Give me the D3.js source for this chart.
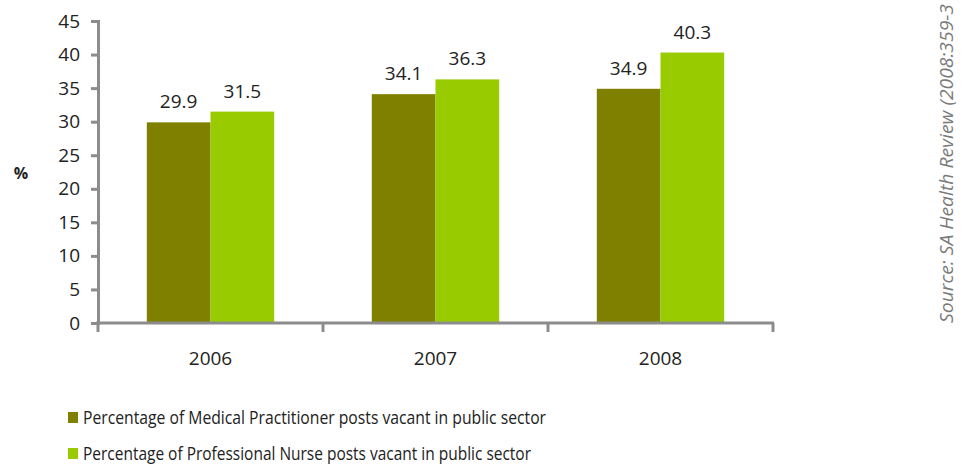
<!DOCTYPE html>
<html>
<head>
<meta charset="utf-8">
<script src="https://cdn.jsdelivr.net/npm/d3@7"></script>
<style>
  body { margin: 0; background: #fff; }
  text { font-family: 'Open Sans', 'DejaVu Sans', sans-serif; }
</style>
</head>
<body>
<div id="chart"></div>
<script>
'use strict'

const years = ['2006', '2007', '2008']
const medical = [29.9, 34.1, 34.9]
const nurse = [31.5, 36.3, 40.3]
const seriesNames = [
  'Percentage of Medical Practitioner posts vacant in public sector',
  'Percentage of Professional Nurse posts vacant in public sector'
]
const yTicks = [0, 5, 10, 15, 20, 25, 30, 35, 40, 45]
// only the part that is visible in the original picture
const sourceText = 'Source: SA Health Review  (2008:359-3'

const width = 965,
    height = 468
const colors = ['#808000', '#99cc00']
const axisColor = '#8c8c8c'

const svg = d3.select('#chart').append('svg')
  .attr('width', width)
  .attr('height', height)

const x = d3.scaleBand().domain(years).range([98, 773])
const inner = d3.scaleBand().domain([0, 1]).range([0, x.bandwidth()]).paddingOuter(0.766).paddingInner(0)
const y = d3.scaleLinear().domain([0, 45]).range([323, 21])

// bars
const groups = svg.append('g').selectAll('g')
  .data(years)
  .enter().append('g')
  .attr('transform', d => 'translate(' + x(d) + ',0)')

groups.selectAll('rect')
  .data((d, i) => [medical[i], nurse[i]])
  .enter().append('rect')
  .attr('x', (d, j) => inner(j))
  .attr('y', d => y(d))
  .attr('width', inner.bandwidth())
  .attr('height', d => y(0) - y(d))
  .attr('fill', (d, j) => colors[j])

groups.selectAll('text.val')
  .data((d, i) => [medical[i], nurse[i]])
  .enter().append('text')
  .attr('class', 'val')
  .attr('x', (d, j) => inner(j) + inner.bandwidth() / 2)
  .attr('y', d => y(d) - 14)
  .attr('text-anchor', 'middle')
  .attr('font-size', 19)
  .attr('fill', '#222')
  .text(d => d.toFixed(1))

// y axis
const yAxis = svg.append('g')
  .attr('transform', 'translate(98,0)')
  .call(d3.axisLeft(y).tickValues(yTicks).tickSize(7).tickPadding(11))
yAxis.select('.domain').attr('stroke', axisColor).attr('stroke-width', 3)
yAxis.selectAll('.tick line').attr('stroke', axisColor).attr('stroke-width', 3)
yAxis.selectAll('.tick text').attr('font-size', 19).attr('fill', '#222')
  .attr('font-family', "'Open Sans', 'DejaVu Sans', sans-serif")

// x axis
const xAxis = svg.append('g')
  .attr('transform', 'translate(0,' + y(0) + ')')
xAxis.append('line')
  .attr('x1', 96).attr('x2', 774)
  .attr('stroke', axisColor).attr('stroke-width', 3)
xAxis.selectAll('line.tick')
  .data(years.map(d => x(d)).concat([x(years[years.length - 1]) + x.bandwidth()]))
  .enter().append('line')
  .attr('class', 'tick')
  .attr('x1', d => d).attr('x2', d => d)
  .attr('y1', 0).attr('y2', 9)
  .attr('stroke', axisColor).attr('stroke-width', 3)
xAxis.selectAll('text')
  .data(years)
  .enter().append('text')
  .attr('x', d => x(d) + x.bandwidth() / 2)
  .attr('y', 42)
  .attr('text-anchor', 'middle')
  .attr('font-size', 19)
  .attr('fill', '#222')
  .text(d => d)

// y title
svg.append('text')
  .attr('x', 21)
  .attr('y', 179)
  .attr('text-anchor', 'middle')
  .attr('font-size', 16)
  .attr('font-weight', 'bold')
  .attr('fill', '#222')
  .text('%')

// legend
const legend = svg.append('g').selectAll('g')
  .data(seriesNames)
  .enter().append('g')
  .attr('transform', (d, i) => 'translate(68,' + (412 + i * 36) + ')')
legend.append('rect')
  .attr('width', 10).attr('height', 11)
  .attr('fill', (d, i) => colors[i])
legend.append('text')
  .attr('x', 15)
  .attr('y', 12)
  .attr('font-size', 18)
  .attr('fill', '#222')
  .attr('textLength', (d, i) => i === 0 ? 463 : 448)
  .attr('lengthAdjust', 'spacingAndGlyphs')
  .text(d => d)

// source note, rotated along the right edge
svg.append('text')
  .attr('transform', 'translate(953,323) rotate(-90)')
  .attr('font-size', 19)
  .attr('font-style', 'italic')
  .attr('fill', '#7a7a7a')
  .attr('textLength', 319)
  .attr('lengthAdjust', 'spacingAndGlyphs')
  .text(sourceText)
</script>
</body>
</html>
